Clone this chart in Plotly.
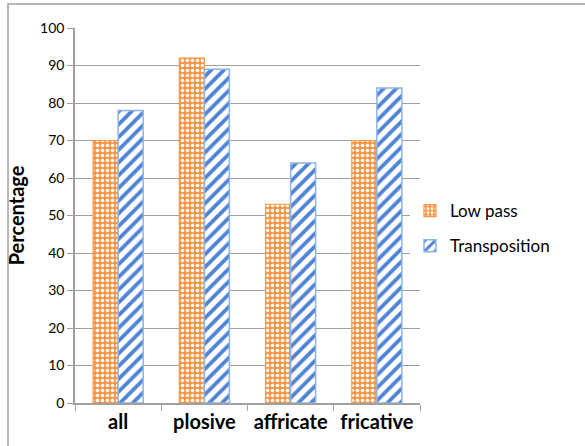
import plotly.graph_objects as go

categories = ["all", "plosive", "affricate", "fricative"]
low_pass = [70, 92, 53, 70]
transposition = [78, 89, 64, 84]
y_ticks = list(range(0, 101, 10))

ORANGE = "#F79646"
BLUE = "#4F83D6"
BLUE_EDGE = "#8DB4E2"
GRID = "#A0A0A0"
FONT = "Lato"

fig = go.Figure()
fig.add_trace(go.Bar(
    x=categories, y=low_pass, name="Low pass", legendgroup="a",
    marker=dict(color=ORANGE, line=dict(color=ORANGE, width=1.2),
                pattern=dict(shape=".", fgcolor="white", bgcolor=ORANGE, fgopacity=1,
                             size=5, solidity=0.4, fillmode="replace")),
))
fig.add_trace(go.Bar(
    x=categories, y=transposition, name="Transposition", legendgroup="b",
    marker=dict(color="white", line=dict(color=BLUE_EDGE, width=1.5),
                pattern=dict(shape="/", fgcolor=BLUE, bgcolor="white", fgopacity=1,
                             size=9, solidity=0.42, fillmode="replace")),
))

fig.update_layout(
    width=585, height=446,
    margin=dict(l=75, r=165, t=28, b=43),
    paper_bgcolor="white", plot_bgcolor="white",
    barmode="group", bargap=0.42, bargroupgap=0,
    font=dict(family=FONT, color="black"),
    showlegend=True,
    legend=dict(x=0.971, xanchor="left", y=0.465, yanchor="middle",
                traceorder="grouped", tracegroupgap=10,
                font=dict(size=17, family=FONT, color="black"),
                itemwidth=30),
    shapes=[dict(type="rect", xref="paper", yref="paper",
                 x0=-(75 - 8) / 345, x1=1.6, y0=-0.5, y1=1 + (28 - 4) / 375,
                 line=dict(color="#A0A0A0", width=1.5), fillcolor="rgba(0,0,0,0)",
                 layer="below")],
)
fig.update_xaxes(
    type="category", showline=True, linecolor=GRID, linewidth=1.5,
    ticks="outside", tickson="boundaries", ticklen=6, tickcolor=GRID,
    tickfont=dict(size=20, family=FONT, color="black", weight="bold"),
    showgrid=False, automargin=False,
)
fig.update_yaxes(
    range=[0, 100], tickvals=y_ticks, showline=True, linecolor=GRID, linewidth=1.5,
    ticks="outside", ticklen=6, tickcolor=GRID,
    showgrid=True, gridcolor=GRID, gridwidth=1.3, zeroline=False,
    tickfont=dict(size=14, family=FONT, color="black"), automargin=False,
    title=dict(text="Percentage", font=dict(size=20, family=FONT, color="black", weight="bold"), standoff=10),
)
fig.write_html("out.html", config={"displayModeBar": False},
               post_script="document.body.style.margin='0';")
